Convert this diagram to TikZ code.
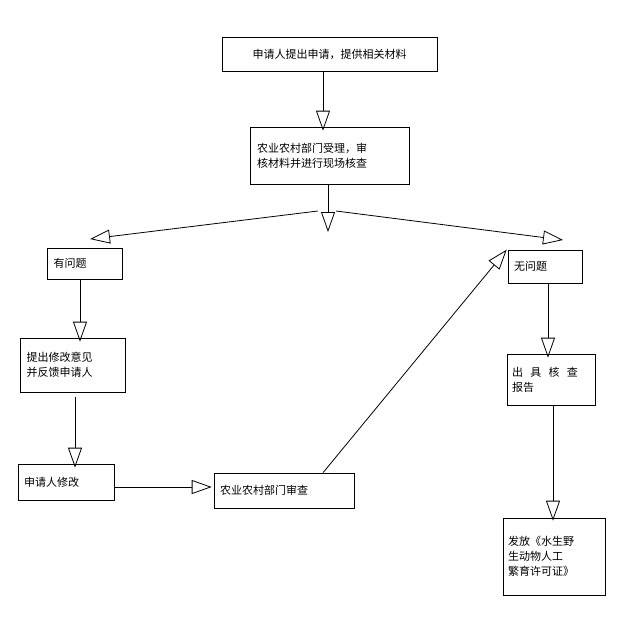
\documentclass[tikz,border=0pt]{standalone}
\usepackage{fontspec}
\setmainfont{Noto Sans CJK SC}
\usetikzlibrary{arrows.meta}
\begin{document}
\begin{tikzpicture}[x=1pt,y=-1pt,
 box/.style={draw,line width=0.6pt,inner sep=0pt,font=\fontsize{11}{15}\selectfont,align=left},
 arr/.style={line width=0.8pt,-{Triangle[open,length=20pt,width=14pt]}}]
\useasboundingbox (0,0) rectangle (637,642);
\node[box,minimum width=215pt,minimum height=34pt] (b1) at (329.5,54) {申请人提出申请，提供相关材料};
\node[box,minimum width=159pt,minimum height=57pt,text width=145pt] (b2) at (329.5,155.5) {农业农村部门受理，审\\核材料并进行现场核查};
\node[box,minimum width=75pt,minimum height=31pt,text width=62pt] (b3) at (84.5,263.5) {有问题};
\node[box,minimum width=105pt,minimum height=54pt,text width=92pt] (b4) at (72.5,365) {提出修改意见\\并反馈申请人};
\node[box,minimum width=96pt,minimum height=36pt,text width=84pt] (b5) at (66,482) {申请人修改};
\node[box,minimum width=140pt,minimum height=35pt,text width=128pt] (b6) at (284,490.5) {农业农村部门审查};
\node[box,minimum width=74pt,minimum height=33pt,text width=62pt] (b7) at (545,266.5) {无问题};
\node[box,minimum width=88pt,minimum height=51pt,text width=78pt] (b8) at (551,379.5) {出\ \ 具\ \ 核\ \ 查\\报告};
\node[box,minimum width=102pt,minimum height=77pt,text width=92pt] (b9) at (554,556.5) {发放《水生野\\生动物人工\\繁育许可证》};
\coordinate (s) at (328,211);
\coordinate (l) at (90,239);
\coordinate (r) at (563,240);
\draw[arr] (b1.south-|323,0) -- ([yshift=-4pt]b2.north-|323,0);
\draw[arr] (b2.south-|328,0) -- (328,232);
\draw[arr] ([xshift=-10pt]s) -- (l);
\draw[arr] ([xshift=8pt]s) -- (r);
\draw[arr] (b3.south-|80,0) -- ([yshift=-4pt]b4.north-|80,0);
\draw[arr] ([yshift=-5pt]b4.south-|75,0) -- ([yshift=-4pt]b5.north-|75,0);
\draw[arr] (b5.east|-0,487) -- ([xshift=-2pt]b6.west|-0,487);
\draw[arr] (b6.north-|323,0) -- ([xshift=-1pt]b7.north west);
\draw[arr] (b7.south-|548,0) -- ([yshift=-4pt]b8.north-|548,0);
\draw[arr] (b8.south-|553,0) -- ([yshift=-3pt]b9.north-|553,0);
\end{tikzpicture}
\end{document}
